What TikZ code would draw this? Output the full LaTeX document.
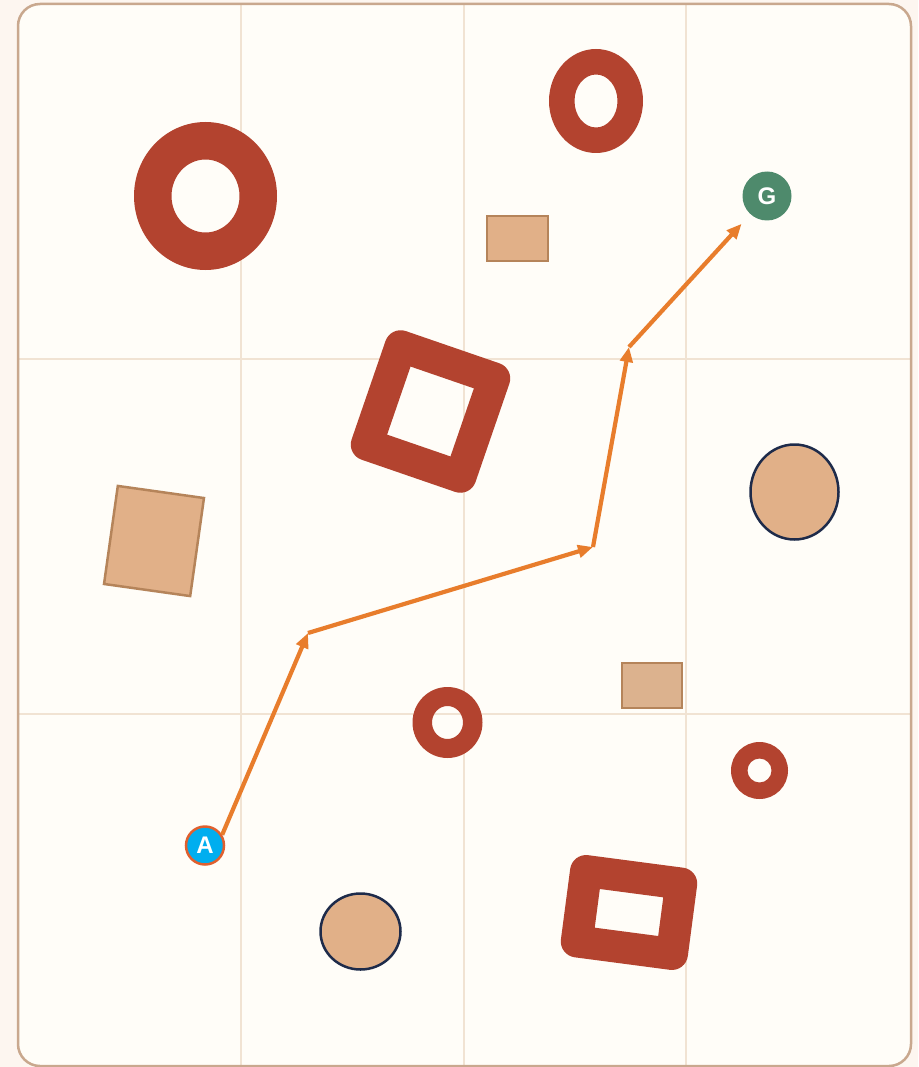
\documentclass[tikz,border=0pt]{standalone}
\usepackage{fontspec}
\setmainfont{Liberation Sans}
\usetikzlibrary{arrows.meta,shapes.geometric}
\definecolor{outerbg}{HTML}{FDF6F0}
\definecolor{panelfill}{HTML}{FFFDF8}
\definecolor{panelline}{HTML}{C9A88E}
\definecolor{gridc}{HTML}{F1E3D3}
\definecolor{ringc}{HTML}{B3432F}
\definecolor{tanfill}{HTML}{E1B088}
\definecolor{tanfillb}{HTML}{DCB28E}
\definecolor{tanline}{HTML}{B5845A}
\definecolor{navy}{HTML}{1E2B4A}
\definecolor{afill}{HTML}{00AEEF}
\definecolor{aline}{HTML}{E0602F}
\definecolor{gfill}{HTML}{4E8A6C}
\definecolor{routec}{HTML}{E87D2C}
\tikzset{
  gridline/.style={gridc, line width=1.5pt},
  ringshape/.style={fill=ringc, even odd rule},
  frameshape/.style={draw=ringc, line width=32pt, line join=round, rectangle, inner sep=0pt, outer sep=0pt, fill=none},
  tanbox/.style={draw=tanline, fill=tanfill, line width=2.5pt, rectangle, inner sep=0pt},
  tanoval/.style={draw=navy, fill=tanfill, line width=2.5pt, ellipse, inner sep=0pt},
  endpt/.style={circle, inner sep=0pt, text=white, font=\fontsize{24}{24}\selectfont\bfseries},
  route/.style={routec, line width=4.2pt, -{Triangle[length=15pt,width=12.5pt]}}
}
\begin{document}
\begin{tikzpicture}[x=1pt,y=-1pt]
\useasboundingbox (0,0) rectangle (918,1067);
\fill[outerbg] (0,0) rectangle (918,1067);
\fill[panelfill, rounded corners=22pt] (18,4) rectangle (911,1066);
% grid
\draw[gridline] (241,4) -- (241,1066);
\draw[gridline] (464,4) -- (464,1066);
\draw[gridline] (686,4) -- (686,1066);
\draw[gridline] (18,359) -- (911,359);
\draw[gridline] (18,714) -- (911,714);
\draw[panelline, line width=2.5pt, rounded corners=22pt] (18,4) rectangle (911,1066);
% rings
\fill[ringshape] (205.5,196) ellipse [x radius=71.5pt, y radius=74pt] (205.5,196) ellipse [x radius=34pt, y radius=36.5pt];
\fill[ringshape] (596,101) ellipse [x radius=47pt, y radius=52pt] (596,101) ellipse [x radius=21.5pt, y radius=26.5pt];
\fill[ringshape] (447.5,722.5) ellipse [x radius=35pt, y radius=35.5pt] (447.5,722.5) ellipse [x radius=15.5pt, y radius=16.5pt];
\fill[ringshape] (759.5,770.5) circle [radius=28.5pt] (759.5,770.5) circle [radius=12pt];
% frames
\node[frameshape, minimum width=99pt, minimum height=104pt, rotate=-19] (f1) at (430.5,411.5) {};
\node[frameshape, minimum width=96pt, minimum height=71pt, rotate=-7.5] (f2) at (629,912.5) {};
% tan boxes
\node[tanbox, minimum width=61pt, minimum height=45pt] (b1) at (517.5,238.5) {};
\node[tanbox, fill=tanfillb, minimum width=60pt, minimum height=45pt] (b2) at (652,685.5) {};
\node[tanbox, minimum width=87pt, minimum height=99pt, rotate=-8] (b3) at (154,541) {};
% ovals
\node[tanoval, minimum width=88pt, minimum height=95pt] (o1) at (794.5,492) {};
\node[tanoval, minimum width=80pt, minimum height=76pt] (o2) at (360.5,931.5) {};
% endpoints
\node[endpt, fill=afill, draw=aline, line width=2.5pt, minimum size=38pt] (A) at (205,845.5) {A};
\node[endpt, fill=gfill, minimum size=49pt] (G) at (767,196) {G};
% route
\coordinate (p1) at (308,633);
\coordinate (p2) at (593,547);
\coordinate (p3) at (629,347);
\draw[route] (A.32) -- (p1);
\draw[route] (p1) -- (p2);
\draw[route] (p2) -- (p3);
\draw[route, shorten >=13pt] (p3) -- (G);
\end{tikzpicture}
\end{document}
